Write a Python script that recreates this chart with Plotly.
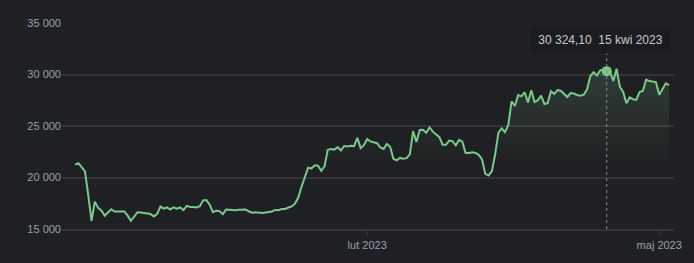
import pandas as pd
import plotly.graph_objects as go

# ---- data ----
start_date = "2022-11-04"
nov_2022 = [21250, 21380, 21000, 20600, 18300, 15800, 17660, 17050, 16800, 16300,
            16600, 16920, 16700, 16700, 16700, 16700, 16300, 15800, 16200, 16630,
            16600, 16550, 16470, 16450, 16220, 16470, 17180]
dec_2022 = [16970, 17090, 16890, 17110, 16970, 17090, 16840, 17250, 17130, 17130,
            17090, 17210, 17780, 17810, 17360, 16630, 16780, 16740, 16440, 16900,
            16850, 16850, 16820, 16860, 16850, 16900, 16700, 16580, 16630, 16600,
            16560]
jan_2023 = [16610, 16670, 16700, 16850, 16830, 16950, 16950, 17090, 17190, 17460,
            18050, 19100, 20100, 20960, 20870, 21180, 21150, 20650, 21090, 22690,
            22760, 22710, 22950, 22620, 23060, 23020, 23080, 23040, 23850, 22850,
            23140]
feb_2023 = [23730, 23500, 23400, 23330, 22920, 22780, 23260, 22980, 21820, 21660,
            21900, 21830, 21880, 22250, 24500, 23450, 24620, 24640, 24350, 24860,
            24450, 24150, 23920, 23180, 23170, 23580, 23520, 23120]
mar_2023 = [23650, 23480, 22380, 22370, 22450, 22380, 22200, 21750, 20350, 20200,
            20620, 22250, 24350, 24780, 24400, 25080, 27400, 26950, 28000, 27880,
            28280, 27280, 28470, 27320, 27500, 27950, 27140, 27220, 28380, 28120,
            28480]
apr_2023 = [28420, 28150, 27820, 28200, 28150, 28000, 27950, 28050, 28550, 29850,
            30220, 29900, 30400, 30480, 30324.10, 30300, 29380, 30560, 28820, 28300,
            27200, 27780, 27600, 27530, 28300, 28400, 29500, 29360, 29300, 29260]
may_2023 = [28030, 28640, 29140, 28960]

values = nov_2022 + dec_2022 + jan_2023 + feb_2023 + mar_2023 + apr_2023 + may_2023
dates = pd.date_range(start_date, periods=len(values), freq="D")

y_tickvals = [15000, 20000, 25000, 30000, 35000]
x_tickvals = ["2023-02-01", "2023-05-01"]
x_ticktext = ["lut 2023", "maj 2023"]

tooltip_date = "2023-04-15"
tooltip_date_label = "15 kwi 2023"
tooltip_value = 30324.10
tooltip_text = (f"{tooltip_value:,.2f}".replace(",", " ").replace(".", ",")
                + "\u00a0\u00a0" + tooltip_date_label)

# ---- styles ----
BG = "#1f2023"
GRID = "#323438"
LINE = "#7cc88c"
TICK_FONT = "#97a0aa"
FONT = "Arial, Liberation Sans, sans-serif"

fig = go.Figure()
fig.add_trace(go.Scatter(
    x=dates, y=values, mode="lines",
    line=dict(color=LINE, width=2),
    fill="tozeroy",
    fillgradient=dict(
        type="vertical",
        colorscale=[[0, "rgba(124,200,140,0)"], [1, "rgba(124,200,140,0.20)"]],
        start=21500, stop=31500,
    ),
    hoverinfo="skip",
))
fig.add_trace(go.Scatter(
    x=[tooltip_date], y=[tooltip_value], mode="markers",
    marker=dict(color=LINE, size=10),
    hoverinfo="skip",
))

fig.add_shape(type="line", xref="x", yref="paper",
              x0=tooltip_date, x1=tooltip_date, y0=0, y1=0.855,
              line=dict(color="#8a8c90", width=1, dash="dot"))

fig.add_annotation(
    text=tooltip_text, xref="paper", yref="paper",
    x=(605.5 - 62) / 618, y=(231 - 40) / 208,
    xanchor="center", yanchor="middle",
    showarrow=False, bgcolor="#1b1c1f", borderpad=0,
    width=139, height=26,
    font=dict(family=FONT, size=12, color="#c9cacc"),
)

fig.update_layout(
    width=694, height=263,
    margin=dict(l=62, r=14, t=23, b=32),
    paper_bgcolor=BG, plot_bgcolor=BG,
    showlegend=False, hovermode=False,
    separators=", ",
    font=dict(family=FONT, size=11, color=TICK_FONT),
)
fig.update_xaxes(
    range=["2022-10-31 00:00", "2023-05-05 12:00"],
    tickvals=x_tickvals, ticktext=x_ticktext,
    showgrid=False, zeroline=False,
    showline=True, linecolor=GRID, linewidth=2,
    ticks="outside", ticklen=5, tickcolor=GRID, tickwidth=1,
    tickfont=dict(family=FONT, size=11, color=TICK_FONT),
)
fig.update_yaxes(
    range=[15000, 35000], tickvals=y_tickvals,
    tickformat=",d",
    showgrid=True, gridcolor=GRID, gridwidth=2,
    zeroline=False, showline=False, ticks="",
    tickfont=dict(family=FONT, size=11, color=TICK_FONT),
)

fig.write_html("out.html")
